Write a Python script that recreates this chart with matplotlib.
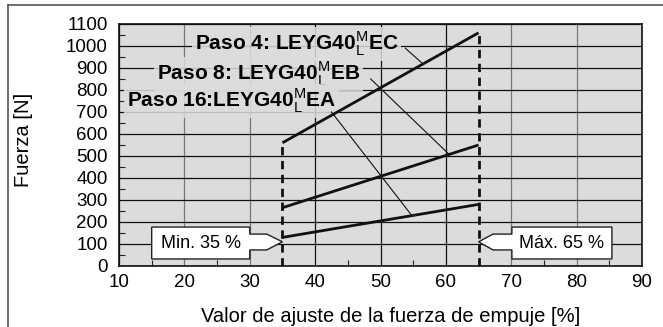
import matplotlib
matplotlib.use("Agg")
import matplotlib.pyplot as plt
from matplotlib.patches import Polygon
from matplotlib.lines import Line2D

plt.rcParams['font.family'] = ['Liberation Sans', 'DejaVu Sans']
plt.rcParams['mathtext.fontset'] = 'custom'
plt.rcParams['mathtext.rm'] = 'Liberation Sans'
plt.rcParams['mathtext.bf'] = 'Liberation Sans'

# ---- data ----
setting_pct = [35, 65]
paso4 = [560, 1060]
paso8 = [265, 550]
paso16 = [130, 280]
labels = [r"Paso 4: LEYG40$^{\mathrm{M}}_{\mathrm{L}}$EC",
          r"Paso 8: LEYG40$^{\mathrm{M}}_{\mathrm{L}}$EB",
          r"Paso 16:LEYG40$^{\mathrm{M}}_{\mathrm{L}}$EA"]
min_label = "Min. 35 %"
max_label = "Máx. 65 %"
xticks = list(range(10, 91, 10))
yticks = list(range(0, 1101, 100))

fig = plt.figure(figsize=(6.63, 3.27), dpi=100)
ax = fig.add_axes([119/663, 1-266/327, 523/663, 242/327])
bg = '#dcdcdc'
ax.set_facecolor(bg)
ax.set_xlim(10, 90)
ax.set_ylim(0, 1100)
ax.set_xticks(xticks)
ax.set_yticks(yticks)
ax.set_xticks(range(15, 90, 10), minor=True)
ax.set_yticks(range(50, 1100, 100), minor=True)
ax.tick_params(which='major', length=0, labelsize=13.5, pad=6)
ax.tick_params(which='minor', direction='in', length=4, width=0.8, color='#222')
ax.tick_params(axis='y', which='major', pad=8)
ax.grid(True, which='major', color='#111', linewidth=0.9)
xcols = {10: '#111', 20: '#777', 30: '#777', 40: '#111', 50: '#111', 60: '#111', 70: '#777', 80: '#777', 90: '#111'}
for t, gl in zip(xticks, ax.xaxis.get_gridlines()):
    gl.set_color(xcols[t])
ax.set_axisbelow(True)
for sp in ax.spines.values():
    sp.set_linewidth(1.2)
    sp.set_color('#111')

lw = 2.0
for ser in (paso4, paso8, paso16):
    ax.plot(setting_pct, ser, color='#111', linewidth=lw, solid_capstyle='butt', zorder=4)

# dashed limits
ax.plot([setting_pct[0]] * 2, [0, paso4[0]], color='#111', linewidth=2.0, linestyle=(0, (3, 2)), zorder=4)
ax.plot([setting_pct[1]] * 2, [0, paso4[1]], color='#111', linewidth=2.0, linestyle=(0, (3, 2)), zorder=4)

# labels
text_pos = [(21.6, 982), (15.8, 845), (11.2, 722)]
for lab, (tx, ty) in zip(labels, text_pos):
    ax.text(tx, ty, lab, fontsize=15, fontweight='bold', va='baseline', ha='left', zorder=3,
            bbox=dict(boxstyle='square,pad=0.12', facecolor=bg, edgecolor='none', alpha=0.85))

def on(ser, x):
    return ser[0] + (ser[1] - ser[0]) * (x - setting_pct[0]) / (setting_pct[1] - setting_pct[0])

leaders = [((53.8, 990), 56.5, paso4), ((48.5, 850), 60.5, paso8), ((42.5, 700), 54.8, paso16)]
for (sx, sy), ex, ser in leaders:
    ax.plot([sx, ex], [sy, on(ser, ex)], color='#111', linewidth=0.8, zorder=3.5)

# callouts
def callout(x0, x1, neck, tip, text):
    y0, y1 = 32, 177
    ny0, ny1 = 73, 145
    ty = 110
    if tip > x1:
        pts = [(x0, y0), (x0, y1), (x1, y1), (x1, ny1), (neck, ny1), (tip, ty), (neck, ny0), (x1, ny0), (x1, y0)]
    else:
        pts = [(x1, y0), (x1, y1), (x0, y1), (x0, ny1), (neck, ny1), (tip, ty), (neck, ny0), (x0, ny0), (x0, y0)]
    ax.add_patch(Polygon(pts, closed=True, facecolor='white', edgecolor='#222', linewidth=1.0, zorder=6))
    ax.text((x0 + x1) / 2, (y0 + y1) / 2, text, ha='center', va='center', fontsize=13, zorder=7)

callout(15.0, 30.0, 32.6, setting_pct[0], min_label)
callout(70.1, 85.4, 67.2, setting_pct[1], max_label)

ax.set_xlabel("Valor de ajuste de la fuerza de empuje [%]", fontsize=14.5)
ax.xaxis.set_label_coords(0.52, -0.168)
ax.set_ylabel("Fuerza [N]", fontsize=14.5)
ax.yaxis.set_label_coords(-0.165, 0.52)

# outer frame
fx = 8 / 663
fy = 1 - 5 / 327
fig.add_artist(Line2D([fx, 1], [fy, fy], transform=fig.transFigure, color='#555', linewidth=1.2))
fig.add_artist(Line2D([fx, fx], [0, fy], transform=fig.transFigure, color='#555', linewidth=1.2))

fig.savefig('out.png', dpi=100)
